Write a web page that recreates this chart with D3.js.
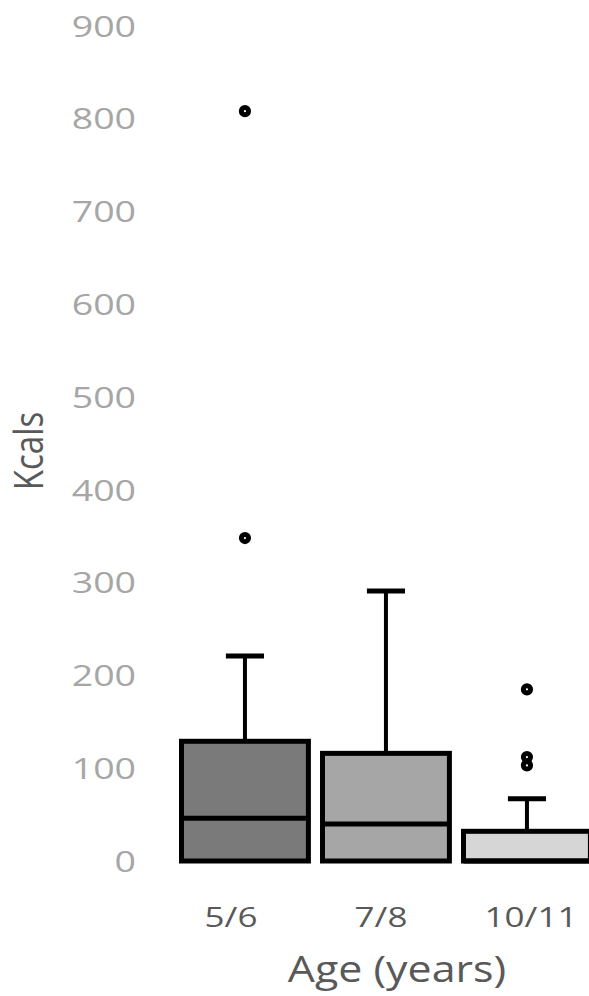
<!DOCTYPE html>
<html>
<head>
<meta charset="utf-8">
<script src="https://cdn.jsdelivr.net/npm/d3@7"></script>
<style>
  html, body { margin: 0; padding: 0; background: #fff; }
  svg { display: block; }
  text { font-family: "Open Sans", "DejaVu Sans", sans-serif; }
</style>
</head>
<body>
<script>
// Energy intake (kcals) by age group, box-and-whisker summary
const categories   = ["5/6", "7/8", "10/11"];
const whiskerLow   = [0, 0, 0];
const q1           = [0, 0, 0];
const median       = [46, 40, 0];
const q3           = [129, 116, 32];
const whiskerHigh  = [221, 291, 67];
const outliers     = [[808, 348], [], [185, 112, 103]];
const yTicks       = [0, 100, 200, 300, 400, 500, 600, 700, 800, 900];

const boxFills = ["#7a7a7a", "#a6a6a6", "#d6d6d6"];

const W = 589, H = 996;
const svg = d3.select("body").append("svg").attr("width", W).attr("height", H);

const y = d3.scaleLinear().domain([0, 900]).range([861, 25.8]);
const x = d3.scaleBand().domain(categories).range([181.5, 590.4])
  .paddingInner(0.1).paddingOuter(0);
// category labels sit on their own evenly spaced axis positions
const xLabel = d3.scalePoint().domain(categories).range([231, 531]);

// Y axis tick labels (no axis line, no tick marks)
const yAxis = svg.append("g").attr("class", "y-axis");
yAxis.selectAll("text").data(yTicks).join("text")
  .attr("transform", d => `translate(136,${y(d) + 10.7}) scale(1.25,1)`)
  .attr("text-anchor", "end")
  .attr("font-size", 30)
  .attr("fill", "#a6a6a6")
  .text(d => d3.format("d")(d));

// Category labels
svg.append("g").attr("class", "x-axis").selectAll("text").data(categories).join("text")
  .attr("transform", d => `translate(${xLabel(d)},927) scale(1.25,1)`)
  .attr("text-anchor", "middle")
  .attr("font-size", 28)
  .attr("fill", "#595959")
  .text(d => d);

// Axis titles
svg.append("text")
  .attr("transform", "translate(397,982) scale(1.16,1)")
  .attr("text-anchor", "middle")
  .attr("font-size", 37)
  .attr("fill", "#595959")
  .text("Age (years)");

svg.append("text")
  .attr("transform", "translate(43,451) scale(1.19,1) rotate(-90)")
  .attr("text-anchor", "middle")
  .attr("font-size", 33)
  .attr("fill", "#595959")
  .text("Kcals");

// Boxes
const rows = categories.map((c, i) => ({
  c, i, lo: whiskerLow[i], q1: q1[i], med: median[i], q3: q3[i], hi: whiskerHigh[i], out: outliers[i]
}));

const g = svg.append("g").attr("class", "boxes");
const bw = x.bandwidth();
const capW = bw * 0.3;

const box = g.selectAll("g.box").data(rows).join("g").attr("class", "box");

// upper whisker + cap
box.append("line")
  .attr("x1", d => x(d.c) + bw / 2).attr("x2", d => x(d.c) + bw / 2)
  .attr("y1", d => y(d.q3)).attr("y2", d => y(d.hi))
  .attr("stroke", "#000").attr("stroke-width", 4);
box.append("line")
  .attr("x1", d => x(d.c) + bw / 2 - capW / 2).attr("x2", d => x(d.c) + bw / 2 + capW / 2)
  .attr("y1", d => y(d.hi)).attr("y2", d => y(d.hi))
  .attr("stroke", "#000").attr("stroke-width", 5);
// lower whisker
box.append("line")
  .attr("x1", d => x(d.c) + bw / 2).attr("x2", d => x(d.c) + bw / 2)
  .attr("y1", d => y(d.q1)).attr("y2", d => y(d.lo))
  .attr("stroke", "#000").attr("stroke-width", 4);

box.append("rect")
  .attr("x", d => x(d.c))
  .attr("width", bw)
  .attr("y", d => y(d.q3))
  .attr("height", d => y(d.q1) - y(d.q3))
  .attr("fill", d => boxFills[d.i])
  .attr("stroke", "#000")
  .attr("stroke-width", 5);

box.append("line")
  .attr("x1", d => x(d.c)).attr("x2", d => x(d.c) + bw)
  .attr("y1", d => y(d.med)).attr("y2", d => y(d.med))
  .attr("stroke", "#000").attr("stroke-width", 5);

// Outliers
box.selectAll("circle").data(d => d.out.map(v => ({ c: d.c, v }))).join("circle")
  .attr("cx", d => x(d.c) + bw / 2)
  .attr("cy", d => y(d.v))
  .attr("r", 3.6)
  .attr("fill", "#fff")
  .attr("stroke", "#000")
  .attr("stroke-width", 5);
</script>
</body>
</html>
